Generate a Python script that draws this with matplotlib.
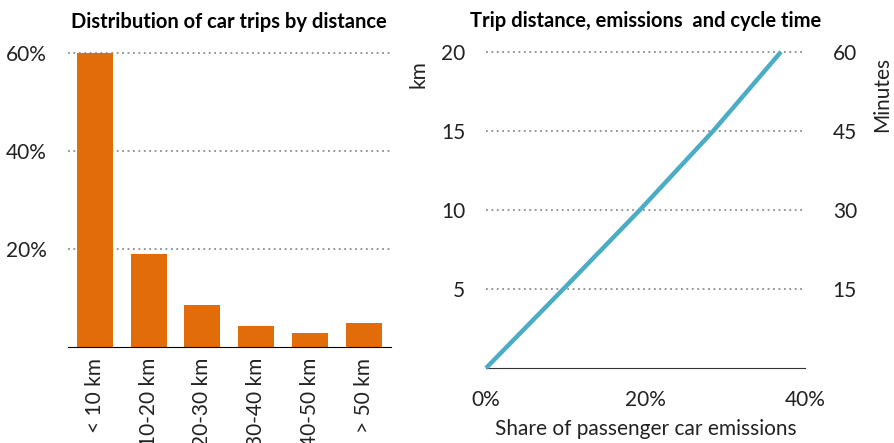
import matplotlib.pyplot as plt
from matplotlib.ticker import FuncFormatter

plt.rcParams['font.family'] = ['Lato', 'DejaVu Sans']

# left panel: distribution of car trips by distance
bins = ['< 10 km', '10-20 km', '20-30 km', '30-40 km', '40-50 km', '> 50 km']
trip_share = [60.0, 19.0, 8.6, 4.3, 2.9, 4.9]

# right panel: cumulative emissions share vs trip distance
emission_share = [0.0, 9.7, 19.3, 28.5, 37.0]
distance_km = [0, 5, 10, 15, 20]
km_ticks = [5, 10, 15, 20]
minute_ticks = [15, 30, 45, 60]

orange = '#E36C0A'
blue = '#4BACC6'
grid_kw = dict(color='#8c8c8c', linestyle=(0, (1, 2)), linewidth=1.3)

fig = plt.figure(figsize=(8.94, 4.43), dpi=100)

# ---- left chart
ax1 = fig.add_axes([0.076, 0.217, 0.361, 0.663])
ax1.bar(range(len(bins)), trip_share, width=0.67, color=orange, zorder=2)
ax1.set_xlim(-0.5, 5.5)
ax1.set_ylim(0, 60)
ax1.set_yticks([20, 40, 60])
ax1.yaxis.set_major_formatter(FuncFormatter(lambda v, p: f'{v:.0f}%'))
ax1.set_xticks(range(len(bins)))
ax1.set_xticklabels(bins, rotation=90, va='top')
for y in [20, 40, 60]:
    ax1.axhline(y, zorder=1, clip_on=False, **grid_kw)
for s in ['top', 'right', 'left']:
    ax1.spines[s].set_visible(False)
ax1.spines['bottom'].set_color('black')
ax1.tick_params(axis='both', length=0, labelsize=15, colors='#222222')
ax1.tick_params(axis='y', pad=15)
ax1.tick_params(axis='x', pad=8)
ax1.set_title('Distribution of car trips by distance', fontsize=14.5,
              fontweight='bold', pad=18)

# ---- right chart
ax2 = fig.add_axes([0.5436, 0.169, 0.3568, 0.714])
ax2.plot(emission_share, distance_km, color=blue, linewidth=3.2,
         solid_capstyle='butt', solid_joinstyle='round', zorder=3, clip_on=False)
ax2.set_xlim(0, 40)
ax2.set_ylim(0, 20)
ax2.set_xticks([0, 20, 40])
ax2.xaxis.set_major_formatter(FuncFormatter(lambda v, p: f'{v:.0f}%'))
ax2.set_yticks(km_ticks)
for y in km_ticks:
    ax2.axhline(y, zorder=1, clip_on=False, **grid_kw)
for s in ['top', 'right', 'left']:
    ax2.spines[s].set_visible(False)
ax2.spines['bottom'].set_color('#333333')
ax2.tick_params(axis='both', length=0, labelsize=15, colors='#222222')
ax2.tick_params(axis='y', pad=15)
ax2.tick_params(axis='x', pad=16)
ax2.set_xlabel('Share of passenger car emissions', fontsize=15, labelpad=6,
               color='#222222')
ax2.set_ylabel('km', fontsize=15, color='#222222')
ax2.yaxis.set_label_coords(-0.18, 0.93)
ax2.set_title('Trip distance, emissions  and cycle time', fontsize=14.5,
              fontweight='bold', pad=18)

ax3 = ax2.twinx()
ax3.set_ylim(0, 60)
ax3.set_yticks(minute_ticks)
for s in ['top', 'right', 'left', 'bottom']:
    ax3.spines[s].set_visible(False)
ax3.tick_params(axis='y', length=0, labelsize=15, pad=20, colors='#222222')
ax3.set_ylabel('Minutes', fontsize=15, color='#222222')
ax3.yaxis.set_label_coords(1.21, 0.864)

fig.savefig('out.png', dpi=100)
